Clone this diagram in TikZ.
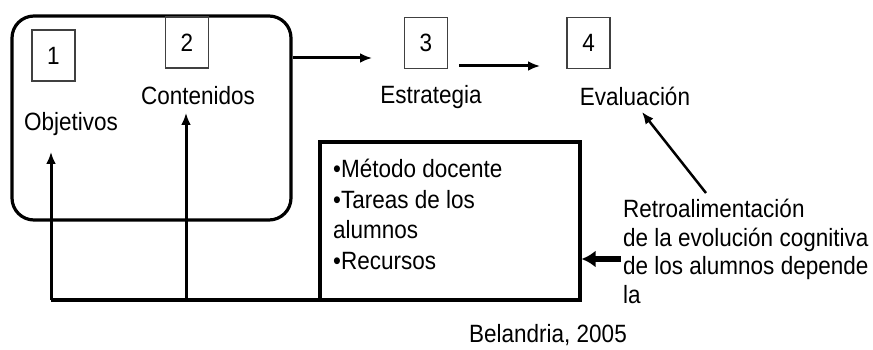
\documentclass[tikz,border=0pt]{standalone}
\usepackage{fontspec}
\setmainfont{Liberation Sans}[FakeStretch=0.9]
\usetikzlibrary{arrows.meta}
\usetikzlibrary{calc}

\begin{document}
\begin{tikzpicture}[x=1pt, y=-1pt,
    texto/.style={font=\fontsize{25}{30.5}\selectfont, inner sep=0pt},
    numero/.style={draw=black!75, line width=1.8pt, minimum width=43pt, minimum height=51pt, inner sep=0pt, font=\fontsize{25}{27}\selectfont},
    flecha/.style={line width=3pt, -{Latex[length=12pt, width=10pt]}}]
  \useasboundingbox (0,0) rectangle (873,350);

  \node[draw, line width=3.2pt, rounded corners=22pt, minimum width=279pt, minimum height=204pt] (grupo) at (151.5,118) {};

  \node[numero] (n1) at (53.5,55.5) {1};
  \node[numero] (n2) at (187,42.5) {2};
  \node[numero] (n3) at (426,43) {3};
  \node[numero] (n4) at (588.5,43) {4};

  \node[texto] (objetivos) at (71,124) {Objetivos};
  \node[texto] (contenidos) at (198,96) {Contenidos};
  \node[texto] (estrategia) at (431,97) {Estrategia};
  \node[texto] (evaluacion) at (635,96) {Evaluación};

  \node[draw, line width=3.2pt, minimum width=260pt, minimum height=158pt, inner sep=0pt] (metodo) at (450,221) {};
  \node[texto, anchor=north west, align=left] (lista) at (333,159) {•Método docente\\•Tareas de los\\alumnos\\•Recursos};

  \node[texto, anchor=north west, align=left, font=\fontsize{25}{28.5}\selectfont] (retro) at (623,199) {Retroalimentación\\de la evolución cognitiva\\de los alumnos depende\\la};

  \node[texto] (fuente) at (548,335) {Belandria, 2005};

  % conectores
  \coordinate (e1) at (372,58);
  \draw[flecha] (grupo.east |- e1) -- (e1);
  \coordinate (a1) at (459,66);
  \coordinate (a2) at (540,66);
  \draw[flecha] (a1) -- (a2);

  \coordinate (r1) at (706,193);
  \coordinate (r2) at (642,112);
  \draw[line width=2.5pt, -{Latex[length=12pt, width=10pt]}] (r1) -- (r2);

  \coordinate (m1) at (621,259);
  \draw[line width=5.5pt, -{Latex[length=14pt, width=17pt]}] (m1) -- (metodo.east |- m1);

  \coordinate (pie1) at (51,300);
  \coordinate (pie2) at (186,300);
  \coordinate (punta1) at (51,152);
  \coordinate (punta2) at (186,113);
  \draw[line width=3.2pt] (pie1 -| metodo.west) -- (pie1);
  \draw[flecha] (pie1) -- (punta1);
  \draw[flecha] (pie2) -- (punta2);
\end{tikzpicture}
\end{document}
